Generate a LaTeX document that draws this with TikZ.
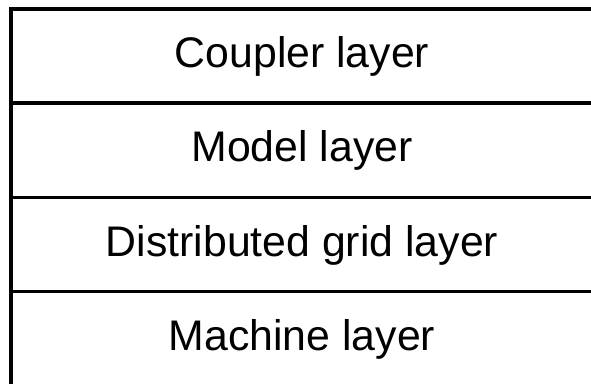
\documentclass[tikz,border=0pt]{standalone}
\usepackage{fontspec}
\setmainfont{Liberation Sans}
\begin{document}
\begin{tikzpicture}[x=1pt,y=1pt,
  layerbox/.style={draw=black, line width=3.3pt, minimum width=582pt, minimum height=94.2pt, inner sep=0pt, outer sep=0pt},
  lbl/.style={anchor=base, inner sep=0pt, font=\fontsize{42.8}{50}\selectfont}]
\useasboundingbox (0,0) rectangle (591,-383);
\clip (0,0) rectangle (591,-383);
\node[layerbox] (coupler) at (302,-56) {};
\node[layerbox] (model) at (302,-150.2) {};
\node[layerbox] (grid) at (302,-244.4) {};
\node[layerbox] (machine) at (302,-338.6) {};
\node[lbl] (couplertxt) at ([yshift=-11pt]coupler.center) {Coupler layer};
\node[lbl] (modeltxt) at ([yshift=-11.5pt]model.center) {Model layer};
\node[lbl] (gridtxt) at ([yshift=-11.8pt]grid.center) {Distributed grid layer};
\node[lbl] (machinetxt) at ([yshift=-12pt]machine.center) {Machine layer};
\end{tikzpicture}
\end{document}
